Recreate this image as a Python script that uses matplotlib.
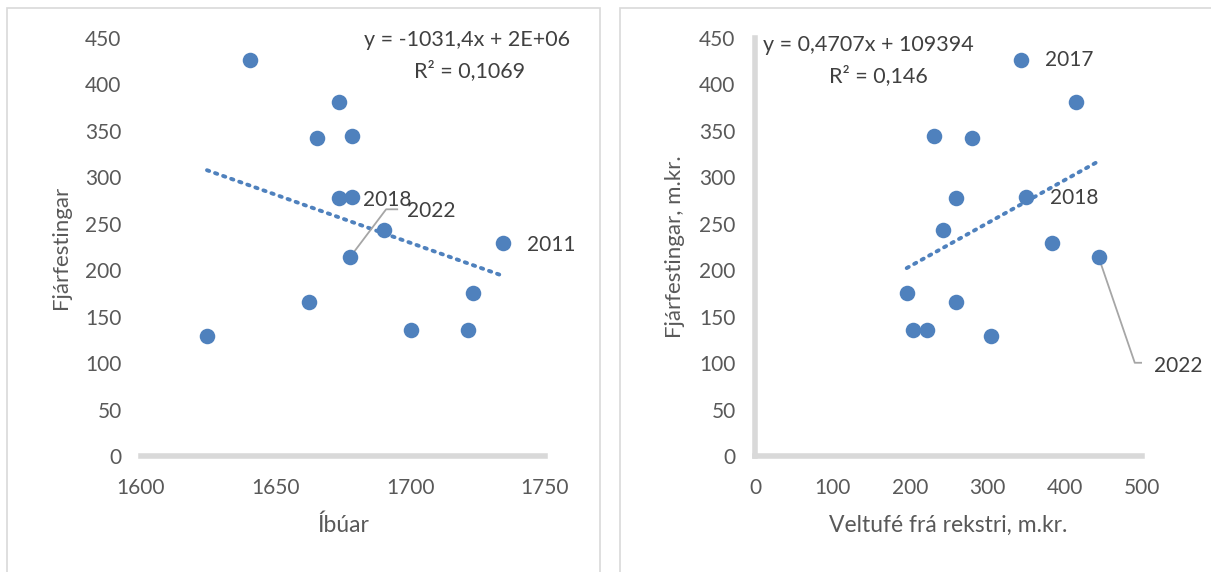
import numpy as np
import matplotlib
matplotlib.use("Agg")
import matplotlib.pyplot as plt
from matplotlib.patches import Rectangle
from matplotlib.transforms import offset_copy

plt.rcParams['font.family'] = ['Lato', 'DejaVu Sans']

# data (m.kr.)
fjarfestingar = [426, 381, 345, 342, 279, 278, 243, 229, 214, 175, 166, 136, 136, 129]
ibuar = [1640.5, 1673.5, 1678.3, 1665.3, 1678.3, 1673.5, 1690.2, 1734.4, 1677.6, 1723.3, 1662.4, 1700.2, 1721.4, 1624.5]
veltufe = [344, 415, 231, 280, 350, 260, 243, 384, 444, 196, 260, 204, 222, 305]
ar = ['2017', '', '', '', '2018', '', '', '2011', '2022', '', '', '', '', '']

blue = '#4F81BD'
txt = '#404040'
tick_col = '#595959'
axis_gray = '#D9D9D9'
lead_col = '#A6A6A6'
fs = 15

fig = plt.figure(figsize=(12.11, 5.72), dpi=100)

# panel borders
fig.patches.append(Rectangle((7/1211, -0.01), 593/1211, 1 - 8/572 + 0.01, transform=fig.transFigure,
                             fill=False, edgecolor=axis_gray, linewidth=1.2))
fig.patches.append(Rectangle((620/1211, -0.01), 600/1211, 1 - 8/572 + 0.01, transform=fig.transFigure,
                             fill=False, edgecolor=axis_gray, linewidth=1.2))

ax1 = fig.add_axes([141/1211, 1 - 456/572, 404/1211, 418/572])
ax2 = fig.add_axes([755/1211, 1 - 456/572, 387/1211, 418/572])


def style(ax, show_y):
    for s in ['top', 'right']:
        ax.spines[s].set_visible(False)
    ax.spines['bottom'].set_color(axis_gray)
    ax.spines['bottom'].set_linewidth(4)
    if show_y:
        ax.spines['left'].set_color(axis_gray)
        ax.spines['left'].set_linewidth(4)
    else:
        ax.spines['left'].set_visible(False)
    ax.tick_params(length=0, colors=tick_col, labelsize=fs)
    ax.tick_params(axis='y', pad=14)
    ax.tick_params(axis='x', pad=16)
    ax.set_ylim(0, 450)
    ax.set_yticks(np.arange(0, 451, 50))
    ax.set_facecolor('none')


def leader(ax, x, y, pts):
    # leader line given as offsets in points from the data point
    tr = ax.transData
    xs, ys = [], []
    for dx, dy in pts:
        px, py = tr.transform((x, y)) + np.array([dx, dy]) * fig.dpi / 72
        xs.append(px)
        ys.append(py)
    ax.plot(xs, ys, color=lead_col, lw=1.3, transform=None, zorder=2.5)


def label(ax, s, x, y, dx, dy):
    ax.annotate(s, (x, y), xytext=(dx, dy), textcoords='offset points',
                ha='left', va='center', fontsize=fs, color=txt, zorder=4)


# left: Íbúar
style(ax1, False)
ax1.set_xlim(1600, 1750)
ax1.set_xticks([1600, 1650, 1700, 1750])
ax1.scatter(ibuar, fjarfestingar, s=125, color=blue, zorder=3, linewidths=0)
k, m = np.polyfit(ibuar, fjarfestingar, 1)
xs = np.array([min(ibuar), max(ibuar)])
ax1.plot(xs, k * xs + m, linestyle=(0, (0.6, 1.6)), color=blue, linewidth=2.8, dash_capstyle='round', zorder=2)
ax1.set_xlabel('Íbúar', fontsize=16.5, color=tick_col, labelpad=12)
ax1.set_ylabel('Fjárfestingar', fontsize=16, color=tick_col, labelpad=10)
ax1.text(1.062, 0.995, 'y = -1031,4x + 2E+06', transform=ax1.transAxes, ha='right', va='center',
         fontsize=15.5, color=txt)
ax1.text(0.814, 0.923, 'R² = 0,1069', transform=ax1.transAxes, ha='center', va='center',
         fontsize=15.5, color=txt)

i18 = ar.index('2018')
label(ax1, '2018', ibuar[i18], fjarfestingar[i18], 8, -2)
i22 = ar.index('2022')
label(ax1, '2022', ibuar[i22], fjarfestingar[i22], 41, 33)
fig.canvas.draw()
i11 = ar.index('2011')
label(ax1, '2011', ibuar[i11], fjarfestingar[i11], 17, -1)

# right: Veltufé
style(ax2, True)
ax2.set_xlim(0, 500)
ax2.set_xticks(np.arange(0, 501, 100))
ax2.scatter(veltufe, fjarfestingar, s=125, color=blue, zorder=3, linewidths=0)
k2, m2 = np.polyfit(veltufe, fjarfestingar, 1)
xs2 = np.array([min(veltufe), max(veltufe)])
ax2.plot(xs2, k2 * xs2 + m2, linestyle=(0, (0.6, 1.6)), color=blue, linewidth=2.8, dash_capstyle='round', zorder=2)
ax2.set_xlabel('Veltufé frá rekstri, m.kr.', fontsize=16.5, color=tick_col, labelpad=12)
ax2.set_ylabel('Fjárfestingar, m.kr.', fontsize=16, color=tick_col, labelpad=10)
ax2.text(0.021, 0.983, 'y = 0,4707x + 109394', transform=ax2.transAxes, ha='left', va='center',
         fontsize=15.5, color=txt)
ax2.text(0.32, 0.911, 'R² = 0,146', transform=ax2.transAxes, ha='center', va='center',
         fontsize=15.5, color=txt)

i17 = ar.index('2017')
label(ax2, '2017', veltufe[i17], fjarfestingar[i17], 17, 0)
label(ax2, '2018', veltufe[i18], fjarfestingar[i18], 17, -1)
label(ax2, '2022', veltufe[i22], fjarfestingar[i22], 40, -78)

# leader lines need final transforms
fig.canvas.draw()
leader(ax1, ibuar[i22], fjarfestingar[i22], [(0, 0), (26, 34.5), (34, 34.5)])
leader(ax2, veltufe[i22], fjarfestingar[i22], [(0, 0), (26, -76), (35, -76)])

fig.savefig('out.png', dpi=100)
